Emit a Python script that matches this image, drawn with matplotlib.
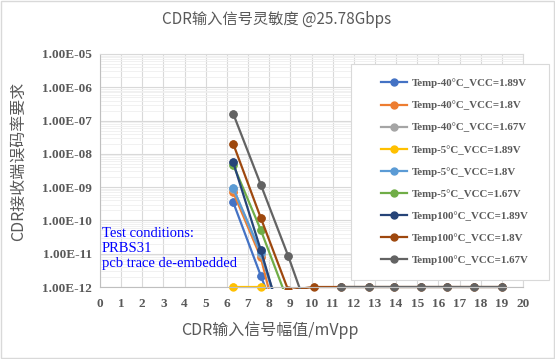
import numpy as np
import matplotlib
matplotlib.use("Agg")
import matplotlib.pyplot as plt
from matplotlib.patches import Rectangle
from matplotlib.transforms import Bbox, TransformedBbox

# 输入幅值 mVpp
amp = [6.3, 7.6, 8.9, 10.1, 11.4, 12.7, 13.9, 15.2, 16.4, 17.7, 19.0]

# 误码率 (低于 1E-12 的点画在坐标轴以下)
ber_m40_189 = [3.5e-10, 2.2e-12, 1.5e-14, 1e-14, 1e-14, 1e-14, 1e-14, 1e-14, 1e-14, 1e-14, 1e-14]
ber_m40_180 = [7.0e-10, 7.8e-12, 4e-15, 1e-14, 1e-14, 1e-14, 1e-14, 1e-14, 1e-14, 1e-14, 1e-14]
ber_m40_167 = [9.0e-10, 1.0e-11, 3e-14, 1e-14, 1e-14, 1e-14, 1e-14, 1e-14, 1e-14, 1e-14, 1e-14]
ber_m5_189 = [1e-12, 1e-12, 1e-14, 1e-14, 1e-14, 1e-14, 1e-14, 1e-14, 1e-14, 1e-14, 1e-14]
ber_m5_180 = [9.3e-10, 1.1e-11, 2e-14, 1e-14, 1e-14, 1e-14, 1e-14, 1e-14, 1e-14, 1e-14, 1e-14]
ber_m5_167 = [4.7e-9, 5.2e-11, 3.5e-13, 1e-14, 1e-14, 1e-14, 1e-14, 1e-14, 1e-14, 1e-14, 1e-14]
ber_100_189 = [5.5e-9, 1.3e-11, 2e-14, 1e-14, 1e-14, 1e-14, 1e-14, 1e-14, 1e-14, 1e-14, 1e-14]
ber_100_180 = [2.0e-8, 1.2e-10, 8e-13, 1e-12, 1e-12, 1e-12, 1e-12, 1e-12, 1e-12, 1e-12, 1e-12]
ber_100_167 = [1.6e-7, 1.2e-9, 8.5e-12, 6e-14, 1e-12, 1e-12, 1e-12, 1e-12, 1e-12, 1e-12, 1e-12]

series = [
    ("Temp-40°C_VCC=1.89V", ber_m40_189, "#4472C4"),
    ("Temp-40°C_VCC=1.8V", ber_m40_180, "#ED7D31"),
    ("Temp-40°C_VCC=1.67V", ber_m40_167, "#A5A5A5"),
    ("Temp-5°C_VCC=1.89V", ber_m5_189, "#FFC000"),
    ("Temp-5°C_VCC=1.8V", ber_m5_180, "#5B9BD5"),
    ("Temp-5°C_VCC=1.67V", ber_m5_167, "#70AD47"),
    ("Temp100°C_VCC=1.89V", ber_100_189, "#264478"),
    ("Temp100°C_VCC=1.8V", ber_100_180, "#9E480E"),
    ("Temp100°C_VCC=1.67V", ber_100_167, "#636363"),
]

yticks = [1e-12, 1e-11, 1e-10, 1e-9, 1e-8, 1e-7, 1e-6, 1e-5]
ytick_labels = ["1.00E-12", "1.00E-11", "1.00E-10", "1.00E-09",
                "1.00E-08", "1.00E-07", "1.00E-06", "1.00E-05"]

title = "CDR输入信号灵敏度 @25.78Gbps"
xlabel = "CDR输入信号幅值/mVpp"
ylabel = "CDR接收端误码率要求"
note = "Test conditions:\nPRBS31\npcb trace de-embedded"

txt_col = "#595959"
cjk = ["Noto Sans CJK SC", "DejaVu Sans"]
serif = "Liberation Serif"

fig = plt.figure(figsize=(5.55, 3.59), dpi=100)
ax = fig.add_axes([100 / 555, 1 - 287 / 359, 423 / 555, 233 / 359])

ax.set_yscale("log")
ax.set_xlim(0, 20)
ax.set_ylim(1e-12, 1e-5)

# 网格
ax.set_xticks(np.arange(0, 21, 1))
ax.set_yticks(yticks)
ax.set_yticklabels(ytick_labels)
ax.grid(True, which="major", color="#D9D9D9", lw=0.8)
ax.grid(True, which="minor", axis="y", color="#EFEFEF", lw=0.6)
ax.set_axisbelow(True)
ax.tick_params(which="both", length=0)
ax.tick_params(axis="y", pad=6, labelsize=9.5, labelcolor=txt_col)
ax.tick_params(axis="x", pad=8, labelsize=9.5, labelcolor=txt_col)
for lab in ax.get_xticklabels() + ax.get_yticklabels():
    lab.set_family(serif)
    lab.set_fontweight("bold")
for s in ax.spines.values():
    s.set_color("#D9D9D9")
ax.spines["left"].set_color("#BFBFBF")
ax.spines["bottom"].set_color("#BFBFBF")

clipbox = TransformedBbox(Bbox([[0, -0.007], [1, 1]]), ax.transAxes)
x = np.array(amp)
for name, vals, col in series:
    v = np.array(vals)
    ln, = ax.plot(x, v, "-o", color=col, lw=1.6, ms=5, label=name)
    ln.set_clip_box(clipbox)
    m = v >= 1e-12
    ax.plot(x[m], v[m], "o", color=col, ms=5, clip_on=False)

# 图例
ax.add_patch(Rectangle((351 / 555, 1 - 280 / 359), 198 / 555, 216 / 359,
                       transform=fig.transFigure, facecolor="white",
                       edgecolor="#D9D9D9", lw=0.8, zorder=4, clip_on=False))
leg = ax.legend(loc="upper left", bbox_to_anchor=(376 / 555, 1 - 73 / 359),
                bbox_transform=fig.transFigure, frameon=False, borderpad=0,
                handlelength=2.4, handletextpad=0.42, labelspacing=1.14,
                prop={"family": serif, "weight": "bold", "size": 7.8})
leg.set_zorder(5)
for t in leg.get_texts():
    t.set_color(txt_col)

ax.text(102 / 555, 1 - 227 / 359, note, transform=fig.transFigure, va="top",
        ha="left", family=serif, fontsize=10.5, color="#0000FF", linespacing=1.2)

fig.text(277 / 555, 1 - 20 / 359, title, ha="center", va="center",
         family=cjk, fontsize=11, color=txt_col)
fig.text(270 / 555, 1 - 330 / 359, xlabel, ha="center", va="center",
         family=cjk, fontsize=11.5, color=txt_col)
fig.text(18 / 555, 1 - 161 / 359, ylabel, ha="center", va="center",
         rotation=90, family=cjk, fontsize=11.5, color=txt_col)

fig.patches.append(Rectangle((0.002, 0.003), 0.996, 0.994, transform=fig.transFigure,
                             facecolor="none", edgecolor="#D9D9D9", lw=1))

fig.savefig("out.png", dpi=100)
